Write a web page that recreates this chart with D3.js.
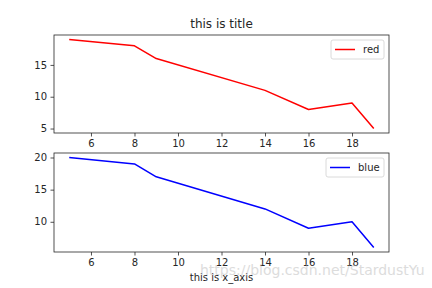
<!DOCTYPE html>
<html><head><meta charset="utf-8">
<script src="https://cdn.jsdelivr.net/npm/d3@7"></script>
<style>body{margin:0;background:#fff}svg{display:block;font-family:"DejaVu Sans",sans-serif}</style>
</head><body>
<svg id="c" width="432" height="288"></svg>
<script>
const xValues = [5, 8, 9, 14, 16, 18, 19];
const redValues = [19, 18, 16, 11, 8, 9, 5];
const blueValues = [20, 19, 17, 12, 9, 10, 6];
const xTicks = [6, 8, 10, 12, 14, 16, 18];
const topYTicks = [5, 10, 15];
const botYTicks = [10, 15, 20];

const svg = d3.select("#c");
const L = 54, R = 389;

function pad(ext){const d=(ext[1]-ext[0])*0.05;return [ext[0]-d, ext[1]+d];}

function panel(top, bottom, ys, yTicks, color, name, legW){
  const x = d3.scaleLinear().domain(pad(d3.extent(xValues))).range([L, R]);
  const y = d3.scaleLinear().domain(pad(d3.extent(ys))).range([bottom, top]);
  const g = svg.append("g");
  const line = d3.line().x((d,i)=>x(xValues[i])).y(d=>y(d));
  g.append("path").datum(ys).attr("d", line).attr("fill","none").attr("stroke",color).attr("stroke-width",1.5).attr("stroke-linejoin","round");
  const xa = g.append("g").attr("transform",`translate(0,${bottom})`).call(d3.axisBottom(x).tickValues(xTicks).tickSize(3.5).tickPadding(3.5));
  const ya = g.append("g").attr("transform",`translate(${L},0)`).call(d3.axisLeft(y).tickValues(yTicks).tickSize(3.5).tickPadding(3.5));
  [xa,ya].forEach(a=>{a.select(".domain").remove();a.selectAll("text").attr("font-size",10).attr("fill","#262626").attr("font-family","DejaVu Sans");a.selectAll("line").attr("stroke","#262626").attr("stroke-width",0.8);});
  g.append("rect").attr("x",L).attr("y",top).attr("width",R-L).attr("height",bottom-top).attr("fill","none").attr("stroke","#262626").attr("stroke-width",0.8);
  // legend
  const lx = R - 5 - legW, ly = top + 5;
  const lg = g.append("g");
  lg.append("rect").attr("x",lx).attr("y",ly).attr("width",legW).attr("height",19).attr("rx",2).attr("fill","#fff").attr("stroke","#d0d0d0").attr("stroke-width",0.8);
  lg.append("line").attr("x1",lx+4).attr("x2",lx+24).attr("y1",ly+9.5).attr("y2",ly+9.5).attr("stroke",color).attr("stroke-width",1.5);
  lg.append("text").attr("x",lx+32).attr("y",ly+13.2).attr("font-size",10).attr("fill","#262626").text(name);
}

panel(35, 133, redValues, topYTicks, "#ff0000", "red", 53);
panel(153, 252, blueValues, botYTicks, "#0000ff", "blue", 58);

svg.append("text").attr("x",221.5).attr("y",28).attr("text-anchor","middle").attr("font-size",12).attr("fill","#262626").text("this is title");
svg.append("text").attr("x",221.5).attr("y",281).attr("text-anchor","middle").attr("font-size",10).attr("fill","#262626").text("this is x_axis");
svg.append("text").attr("x",200).attr("y",275).attr("font-size",14).attr("fill","#bbbbbb").attr("opacity",0.5).text("https://blog.csdn.net/StardustYu");
</script>
</body></html>
